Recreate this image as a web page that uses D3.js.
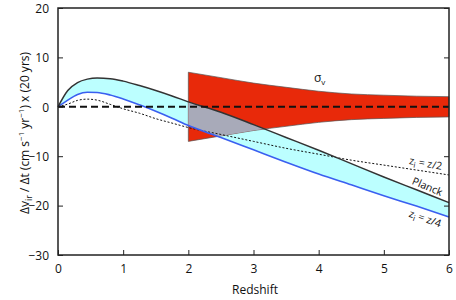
<!DOCTYPE html>
<html>
<head>
<meta charset="utf-8">
<script src="https://cdn.jsdelivr.net/npm/d3@7"></script>
<style>
  html, body { margin: 0; padding: 0; background: #fff; }
  text { font-family: "Open Sans", "Liberation Sans", sans-serif; fill: #111; }
</style>
</head>
<body>
<svg id="chart" width="456" height="300"></svg>
<script>
// ---- data ----
const zPts    = [0, 0.15, 0.3, 0.45, 0.6, 0.8, 1.0, 1.25, 1.5, 1.75, 2.0, 2.5, 3.0, 3.5, 4.0, 4.5, 5.0, 5.5, 6.0];
const planck  = [0, 3.3, 4.9, 5.6, 5.85, 5.7, 5.2, 4.3, 3.3, 2.2, 1.0, -1.1, -3.6, -6.2, -8.8, -11.5, -14.2, -16.8, -19.4];
const zQuarter= [0, 1.35, 2.5, 2.95, 2.9, 2.4, 1.6, 0.4, -0.9, -2.3, -3.8, -6.2, -8.7, -11.2, -13.6, -15.8, -18.0, -20.1, -22.3];
const zHalf   = [0, 0.55, 1.3, 1.55, 1.35, 0.5, -0.4, -1.3, -2.4, -3.3, -4.2, -5.6, -7.0, -8.4, -9.6, -10.8, -11.8, -12.8, -13.8];
const sigmaZ  = [2, 2.5, 3, 3.5, 4, 4.5, 5, 5.5, 6];
const sigmaV  = [7.0, 5.9, 4.8, 3.95, 3.15, 2.6, 2.35, 2.15, 2.05];
const xTicks  = [0, 1, 2, 3, 4, 5, 6];
const yTicks  = [-30, -20, -10, 0, 10, 20];

// ---- layout ----
const svg = d3.select("#chart");
const x = d3.scaleLinear().domain([0, 6]).range([58, 449]);
const y = d3.scaleLinear().domain([-30, 20]).range([255, 8]);

const band = zPts.map((z, i) => ({z, hi: planck[i], lo: zQuarter[i]}));
const sig = sigmaZ.map((z, i) => ({z, s: sigmaV[i]}));

const bandArea = d3.area().x(d => x(d.z)).y0(d => y(d.lo)).y1(d => y(d.hi)).curve(d3.curveMonotoneX);
const sigArea = d3.area().x(d => x(d.z)).y0(d => y(-d.s)).y1(d => y(d.s)).curve(d3.curveMonotoneX);
const line = arr => d3.line().x((d, i) => x(zPts[i])).y(d => y(d)).curve(d3.curveMonotoneX)(arr);

svg.append("defs").append("clipPath").attr("id", "sigClip")
  .append("path").attr("d", sigArea(sig));

// cyan band
svg.append("path").attr("d", bandArea(band)).attr("fill", "#bcffff");
// red sigma region
svg.append("path").attr("d", sigArea(sig)).attr("fill", "#e8290a")
  .attr("stroke", "#555").attr("stroke-width", 0.7);
// overlap
svg.append("path").attr("d", bandArea(band)).attr("fill", "#a8aab9")
  .attr("clip-path", "url(#sigClip)");

// curves
svg.append("path").attr("d", line(zHalf)).attr("fill", "none")
  .attr("stroke", "#111").attr("stroke-width", 1).attr("stroke-dasharray", "2,1.8");
svg.append("path").attr("d", line(zQuarter)).attr("fill", "none")
  .attr("stroke", "#3a5ff0").attr("stroke-width", 1.6);
svg.append("path").attr("d", line(planck)).attr("fill", "none")
  .attr("stroke", "#333").attr("stroke-width", 1.5);

// zero dashed line
svg.append("line").attr("x1", x(0)).attr("x2", x(6)).attr("y1", y(0)).attr("y2", y(0))
  .attr("stroke", "#111").attr("stroke-width", 2).attr("stroke-dasharray", "7,4");

// frame
svg.append("rect").attr("x", x(0)).attr("y", y(20)).attr("width", x(6) - x(0)).attr("height", y(-30) - y(20))
  .attr("fill", "none").attr("stroke", "#222").attr("stroke-width", 1.5);

// axes
const fs = "12px";
const axB = svg.append("g").attr("transform", `translate(0,${y(-30)})`)
  .call(d3.axisBottom(x).tickValues(xTicks).tickSizeInner(-5).tickSizeOuter(0).tickPadding(9).tickFormat(d3.format("d")));
const axL = svg.append("g").attr("transform", `translate(${x(0)},0)`)
  .call(d3.axisLeft(y).tickValues(yTicks).tickSizeInner(-5).tickSizeOuter(0).tickPadding(9).tickFormat(d3.format("d")));
const axR = svg.append("g").attr("transform", `translate(${x(6)},0)`)
  .call(d3.axisRight(y).tickValues(yTicks).tickSizeInner(-5).tickSizeOuter(0).tickFormat(""));
[axB, axL, axR].forEach(g => {
  g.select(".domain").remove();
  g.selectAll("line").attr("stroke", "#222").attr("stroke-width", 1);
  g.selectAll("text").attr("font-size", fs).attr("font-family", "'Open Sans', sans-serif").attr("fill", "#111");
});
axL.selectAll("text").attr("dy", "0.35em");

// axis titles
svg.append("text").attr("x", 255).attr("y", 294).attr("text-anchor", "middle")
  .attr("font-size", fs).text("Redshift");

const yl = svg.append("text").attr("transform", "translate(29,133) rotate(-90)")
  .attr("text-anchor", "middle").attr("font-size", fs);
yl.append("tspan").text("Δv");
yl.append("tspan").attr("font-size", "9px").attr("dy", 3).text("ir");
yl.append("tspan").attr("dy", -3).text(" / Δt (cm s");
yl.append("tspan").attr("font-size", "8px").attr("dy", -5).text("−1");
yl.append("tspan").attr("dy", 5).text(" yr");
yl.append("tspan").attr("font-size", "8px").attr("dy", -5).text("−1");
yl.append("tspan").attr("dy", 5).text(") x (20 yrs)");

// annotations
const sv = svg.append("text").attr("x", 314).attr("y", 82).attr("font-size", "12px");
sv.append("tspan").text("σ");
sv.append("tspan").attr("font-size", "8px").attr("dy", 3).text("v");

const lab = (cx, cy, rot) => svg.append("text")
  .attr("transform", `translate(${cx},${cy}) rotate(${rot})`).attr("text-anchor", "middle").attr("font-size", "10.5px");

const t1 = lab(425, 167, 10);
t1.append("tspan").text("z");
t1.append("tspan").attr("font-size", "8px").attr("dy", 2.5).text("i");
t1.append("tspan").attr("dy", -2.5).text(" = z/2");

const t2 = lab(426, 190, 23);
t2.append("tspan").text("Planck");

const t3 = lab(424, 222, 19);
t3.append("tspan").text("z");
t3.append("tspan").attr("font-size", "8px").attr("dy", 2.5).text("i");
t3.append("tspan").attr("dy", -2.5).text(" = z/4");
</script>
</body>
</html>
